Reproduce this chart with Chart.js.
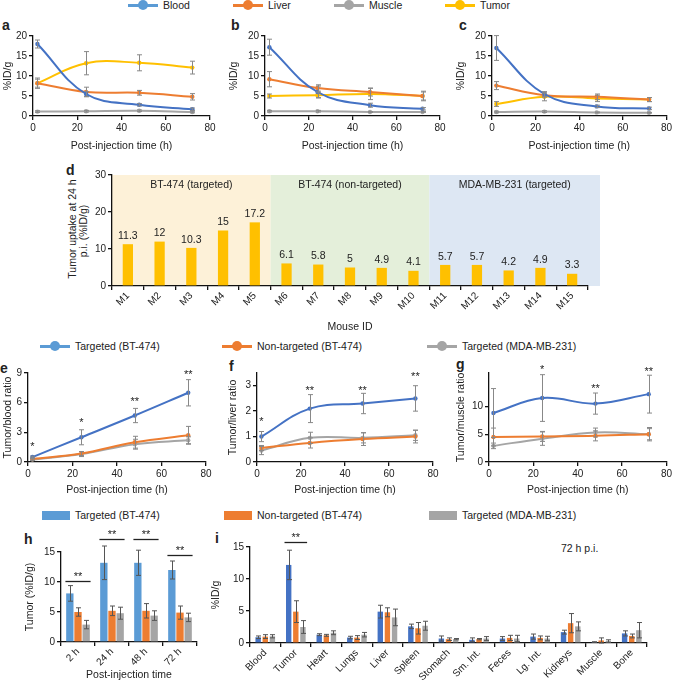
<!DOCTYPE html>
<html>
<head>
<meta charset="utf-8">
<script src="https://cdn.jsdelivr.net/npm/chart.js@4.4.1/dist/chart.umd.min.js"></script>
<style>
body { margin: 0; background: #fff; width: 674px; height: 681px; position: relative; overflow: hidden;
       font-family: 'Liberation Sans', Arial, sans-serif; color: #222; }
canvas { position: absolute; }
.lt { position: absolute; font-weight: bold; font-size: 14px; line-height: 14px; }
.leg { position: absolute; font-size: 10.5px; line-height: 12px; display: flex; align-items: center; white-space: nowrap; }
.ln { display: inline-block; width: 30px; height: 3px; background: var(--c); position: relative; margin-right: 5px; }
.ln::after { content: ''; position: absolute; left: 10px; top: -3.5px; width: 10px; height: 10px; border-radius: 50%; background: var(--c); }
.bx { display: inline-block; width: 28px; height: 9px; background: var(--c); margin-right: 5px; }
.note { position: absolute; font-size: 10.5px; }
.vt { position: absolute; width: 160px; text-align: center; font-size: 10.5px; line-height: 12px; transform: rotate(-90deg); white-space: nowrap; }
</style>
</head>
<body>
<div class="lt" style="left:2px;top:18px">a</div>
<div class="lt" style="left:231px;top:18px">b</div>
<div class="lt" style="left:459px;top:18px">c</div>
<div class="lt" style="left:66px;top:163px">d</div>
<div class="lt" style="left:0px;top:361px">e</div>
<div class="lt" style="left:229px;top:359px">f</div>
<div class="lt" style="left:456px;top:357px">g</div>
<div class="lt" style="left:24px;top:532px">h</div>
<div class="lt" style="left:215px;top:531px">i</div>
<div class="note" style="left:561px;top:542px">72 h p.i.</div>
<div class="vt" style="left:-8px;top:223px">Tumor uptake at 24 h</div>
<div class="vt" style="left:3px;top:225px">p.i. (%ID/g)</div>

<script>
// ---- data ----
const times = [2, 24, 48, 72];
const organNames = ['Blood', 'Liver', 'Muscle', 'Tumor'];
const groupNames = ['Targeted (BT-474)', 'Non-targeted (BT-474)', 'Targeted (MDA-MB-231)'];

// panel a (targeted, BT-474)
const aBlood = [18.0, 5.5, 2.8, 1.7],   aBloodErr = [1.0, 0.6, 0.3, 0.3];
const aLiver = [8.2, 6.0, 5.8, 4.8],    aLiverErr = [1.3, 1.2, 0.6, 0.8];
const aMuscle = [1.1, 1.2, 1.3, 1.0],   aMuscleErr = [0.2, 0.2, 0.2, 0.2];
const aTumor = [8.2, 13.2, 13.3, 12.1], aTumorErr = [1.0, 2.9, 2.0, 1.6];
// panel b (non-targeted, BT-474)
const bBlood = [17.2, 6.0, 2.7, 1.8],   bBloodErr = [2.0, 1.5, 0.5, 0.3];
const bLiver = [9.2, 7.0, 6.0, 5.0],    bLiverErr = [1.9, 0.8, 1.0, 1.0];
const bMuscle = [1.2, 1.2, 1.0, 1.0],   bMuscleErr = [0.2, 0.2, 0.1, 0.1];
const bTumor = [5.0, 5.2, 5.5, 5.0],    bTumorErr = [0.5, 0.6, 1.4, 1.2];
// panel c (targeted, MDA-MB-231)
const cBlood = [17.0, 5.5, 2.4, 1.9],   cBloodErr = [3.1, 0.6, 0.3, 0.3];
const cLiver = [7.6, 5.2, 4.8, 4.1],    cLiverErr = [1.0, 0.5, 0.7, 0.5];
const cMuscle = [1.0, 1.1, 0.9, 0.8],   cMuscleErr = [0.2, 0.2, 0.1, 0.1];
const cTumor = [3.0, 4.8, 4.4, 4.1],    cTumorErr = [0.6, 1.0, 0.8, 0.5];

// panel d
const mice = ['M1','M2','M3','M4','M5','M6','M7','M8','M9','M10','M11','M12','M13','M14','M15'];
const uptake24h = [11.3, 12, 10.3, 15, 17.2, 6.1, 5.8, 5, 4.9, 4.1, 5.7, 5.7, 4.2, 4.9, 3.3];
const mouseGroups = ['BT-474 (targeted)', 'BT-474 (non-targeted)', 'MDA-MB-231 (targeted)'];

// panel e: tumor/blood ratio
const eT = [0.5, 2.5, 4.7, 7.0],  eTErr = [0.1, 0.76, 0.72, 1.33];
const eN = [0.3, 0.85, 2.0, 2.7], eNErr = [0.1, 0.2, 0.6, 0.9];
const eM = [0.25, 0.8, 1.8, 2.2], eMErr = [0.1, 0.25, 0.5, 0.35];
const eStars = ['*', '*', '**', '**'], eStarAt = [1.8, 4.2, 6.4, 9.1];
// panel f: tumor/liver ratio
const fT = [1.0, 2.1, 2.3, 2.5],    fTErr = [0.2, 0.55, 0.4, 0.5];
const fN = [0.55, 0.75, 0.9, 1.0],  fNErr = [0.1, 0.2, 0.25, 0.25];
const fM = [0.45, 0.95, 0.95, 1.05], fMErr = [0.16, 0.22, 0.2, 0.2];
const fStars = ['*', '**', '**', '**'], fStarAt = [1.7, 2.9, 2.9, 3.45];
// panel g: tumor/muscle ratio
const gT = [8.8, 11.5, 10.5, 12.2], gTErr = [4.4, 4.2, 1.9, 3.4];
const gN = [4.5, 4.6, 4.7, 5.0],    gNErr = [1.6, 0.9, 0.9, 1.2];
const gM = [2.9, 4.2, 5.3, 5.0],    gMErr = [0.5, 1.2, 0.8, 1.0];
const gStars = ['', '*', '**', '**'], gStarAt = [0, 17, 13.75, 16.8];

// panel h: tumor uptake
const hTimes = ['2 h', '24 h', '48 h', '72 h'];
const hT = [8.1, 13.2, 13.2, 12.0], hTErr = [1.3, 2.8, 2.1, 1.5];
const hN = [5.0, 5.2, 5.2, 4.9],    hNErr = [0.7, 0.8, 1.2, 1.1];
const hM = [2.9, 4.8, 4.4, 4.1],    hMErr = [0.7, 1.0, 0.8, 0.7];
const hSig = [10.2, 17.2, 17.2, 14.5];

// panel i: biodistribution 72 h
const organs = ['Blood','Tumor','Heart','Lungs','Liver','Spleen','Stomach','Sm. Int.','Feces','Lg. Int.','Kidneys','Muscle','Bone'];
const iT = [0.9, 12.2, 1.3, 0.85, 4.9, 2.6, 0.7, 0.5, 0.7, 1.0, 1.7, 0.15, 1.5];
const iTErr = [0.2, 2.3, 0.15, 0.2, 1.0, 0.35, 0.4, 0.3, 0.3, 0.4, 0.3, 0.05, 0.4];
const iN = [1.0, 4.9, 1.2, 0.85, 4.8, 2.3, 0.6, 0.6, 0.8, 0.8, 3.1, 0.4, 1.1];
const iNErr = [0.3, 1.7, 0.15, 0.3, 0.7, 0.9, 0.2, 0.1, 0.4, 0.3, 1.5, 0.4, 0.3];
const iM = [1.05, 2.5, 1.6, 1.3, 4.0, 2.7, 0.6, 0.7, 0.7, 0.7, 2.6, 0.3, 2.0];
const iMErr = [0.25, 1.0, 0.3, 0.35, 1.3, 0.7, 0.1, 0.3, 0.5, 0.35, 0.7, 0.2, 1.2];
const iSig = [null, 15.8, null, null, null, null, null, null, null, null, null, null, null];

// ---- styling ----
const FONT = "'Liberation Sans', Arial, sans-serif";
const BLUE = '#4472C4', LBLUE = '#5B9BD5', ORANGE = '#ED7D31', GRAY = '#A5A5A5', YELLOW = '#FFC000';
const groupFills = ['#FDF1D8', '#E4EFDA', '#DDE7F3'];

Chart.defaults.font.family = FONT;
Chart.defaults.font.size = 10;
Chart.defaults.color = '#222';
Chart.defaults.animation = false;
Chart.defaults.responsive = false;
Chart.defaults.plugins.legend.display = false;
Chart.defaults.plugins.tooltip.enabled = false;

// legends (html)
function legend(top, items, kind) {
  items.forEach(it => {
    const d = document.createElement('div');
    d.className = 'leg';
    d.style.left = it.left + 'px';
    d.style.top = top + 'px';
    const s = document.createElement('span');
    s.className = kind;
    s.style.setProperty('--c', it.color);
    d.appendChild(s);
    d.appendChild(document.createTextNode(it.name));
    document.body.appendChild(d);
  });
}
legend(-1, [
  {name: organNames[0], color: LBLUE, left: 128},
  {name: organNames[1], color: ORANGE, left: 233},
  {name: organNames[2], color: GRAY, left: 334},
  {name: organNames[3], color: YELLOW, left: 445}], 'ln');
legend(340, [
  {name: groupNames[0], color: LBLUE, left: 40},
  {name: groupNames[1], color: ORANGE, left: 222},
  {name: groupNames[2], color: GRAY, left: 427}], 'ln');
legend(509, [
  {name: groupNames[0], color: LBLUE, left: 42},
  {name: groupNames[1], color: ORANGE, left: 224},
  {name: groupNames[2], color: GRAY, left: 429}], 'bx');

function place(left, top, w, h) {
  const c = document.createElement('canvas');
  c.width = w; c.height = h;
  c.style.left = left + 'px'; c.style.top = top + 'px';
  document.body.appendChild(c);
  return c;
}

// error bars on any dataset with an errors array
const errorBars = {
  id: 'errorBars',
  afterDatasetsDraw(chart) {
    const ctx = chart.ctx, y = chart.scales.y;
    ctx.save();
    chart.data.datasets.forEach((ds, i) => {
      if (!ds.errors) return;
      const meta = chart.getDatasetMeta(i);
      ctx.strokeStyle = ds.errColor || '#888';
      ctx.lineWidth = 1;
      meta.data.forEach((el, j) => {
        const raw = ds.data[j];
        const v = typeof raw === 'object' ? raw.y : raw;
        const e = ds.errors[j];
        if (!e) return;
        const x = Math.round(el.x) + 0.5;
        const t = y.getPixelForValue(v + e), b = y.getPixelForValue(Math.max(0, v - e));
        ctx.beginPath();
        ctx.moveTo(x, t); ctx.lineTo(x, b);
        ctx.moveTo(x - 2.5, t); ctx.lineTo(x + 2.5, t);
        ctx.moveTo(x - 2.5, b); ctx.lineTo(x + 2.5, b);
        ctx.stroke();
      });
    });
    ctx.restore();
  }
};

function starMarks(labels, xs, ys) {
  return {
    id: 'stars',
    afterDraw(chart) {
      const {ctx, scales: {x, y}} = chart;
      ctx.save();
      ctx.fillStyle = '#222';
      ctx.font = '11px ' + FONT;
      ctx.textAlign = 'center';
      ctx.textBaseline = 'alphabetic';
      labels.forEach((t, i) => {
        if (!t) return;
        ctx.fillText(t, x.getPixelForValue(xs[i]), y.getPixelForValue(ys[i]) + 6);
      });
      ctx.restore();
    }
  };
}

function sigMarks(ys) {
  return {
    id: 'sig',
    afterDraw(chart) {
      const {ctx, scales: {x, y}} = chart;
      const step = x.getPixelForValue(1) - x.getPixelForValue(0);
      ctx.save();
      ctx.fillStyle = '#222'; ctx.strokeStyle = '#222'; ctx.lineWidth = 1.3;
      ctx.font = '11px ' + FONT;
      ctx.textAlign = 'center';
      ys.forEach((v, i) => {
        if (v == null) return;
        const cx = x.getPixelForValue(i), py = Math.round(y.getPixelForValue(v)) + 0.5;
        ctx.beginPath();
        ctx.moveTo(cx - step * 0.37, py); ctx.lineTo(cx + step * 0.37, py);
        ctx.stroke();
        ctx.fillText('**', cx, py - 2);
      });
      ctx.restore();
    }
  };
}

function axis(title, fit, horizontal, ticks) {
  return {
    border: {color: '#111', width: 1.3},
    grid: {display: true, drawOnChartArea: false, drawTicks: true, tickLength: 4, color: '#111', lineWidth: 1.3},
    ticks: Object.assign({padding: 2, color: '#222'}, ticks || {}),
    title: {display: !!title, text: title, color: '#222', font: {size: 10.5}, padding: {top: 2, bottom: 0}},
    afterFit: s => { if (horizontal) s.height = fit; else s.width = fit; }
  };
}

function lineChart(box, pad, yW, xH, yTitle, yMax, yStep, series, stars) {
  const [l, t, w, h] = box;
  const y = Object.assign(axis(yTitle, yW, false), {min: 0, max: yMax});
  y.ticks.stepSize = yStep;
  y.afterBuildTicks = s => { s.ticks = s.ticks.filter(k => Math.abs(k.value / yStep - Math.round(k.value / yStep)) < 1e-6); };
  const x = Object.assign(axis('Post-injection time (h)', xH, true, {stepSize: 20}), {type: 'linear', min: 0, max: 80});
  return new Chart(place(l, t, w, h), {
    type: 'line',
    data: {
      datasets: series.map(s => ({
        data: times.map((tm, i) => ({x: tm, y: s.v[i]})),
        errors: s.e,
        borderColor: s.c, backgroundColor: s.c,
        borderWidth: 2, pointRadius: 2.2, pointBorderWidth: 0, tension: 0.4
      }))
    },
    options: {layout: {padding: pad}, scales: {x, y}},
    plugins: [errorBars].concat(stars ? [starMarks(stars[0], times, stars[1])] : [])
  });
}

// a, b, c
lineChart([0, 28, 222, 124], {top: 8, right: 12}, 33, 36, '%ID/g', 20, 5, [
  {v: aBlood, e: aBloodErr, c: BLUE}, {v: aLiver, e: aLiverErr, c: ORANGE},
  {v: aMuscle, e: aMuscleErr, c: GRAY}, {v: aTumor, e: aTumorErr, c: YELLOW}]);
lineChart([226, 28, 226, 124], {top: 8, right: 12}, 39, 36, '%ID/g', 20, 5, [
  {v: bBlood, e: bBloodErr, c: BLUE}, {v: bLiver, e: bLiverErr, c: ORANGE},
  {v: bMuscle, e: bMuscleErr, c: GRAY}, {v: bTumor, e: bTumorErr, c: YELLOW}]);
lineChart([453, 28, 221, 124], {top: 8, right: 7}, 39, 36, '%ID/g', 20, 5, [
  {v: cBlood, e: cBloodErr, c: BLUE}, {v: cLiver, e: cLiverErr, c: ORANGE},
  {v: cMuscle, e: cMuscleErr, c: GRAY}, {v: cTumor, e: cTumorErr, c: YELLOW}]);

// e, f, g
lineChart([0, 358, 218, 138], {top: 15, right: 12}, 28, 34, 'Tumor/blood ratio', 9, 3, [
  {v: eT, e: eTErr, c: BLUE}, {v: eN, e: eNErr, c: ORANGE}, {v: eM, e: eMErr, c: GRAY}], [eStars, eStarAt]);
lineChart([225, 358, 220, 138], {top: 15, right: 12}, 32, 34, 'Tumor/liver ratio', 3.5, 1, [
  {v: fT, e: fTErr, c: BLUE}, {v: fN, e: fNErr, c: ORANGE}, {v: fM, e: fMErr, c: GRAY}], [fStars, fStarAt]);
lineChart([453, 358, 221, 138], {top: 15, right: 7}, 36, 34, 'Tumor/muscle ratio', 16, 5, [
  {v: gT, e: gTErr, c: BLUE}, {v: gN, e: gNErr, c: ORANGE}, {v: gM, e: gMErr, c: GRAY}], [gStars, gStarAt]);

// d
const groupPlugin = {
  id: 'groups',
  beforeDraw(chart) {
    const {ctx, chartArea: {top, bottom}, scales: {x}} = chart;
    const step = x.getPixelForValue(1) - x.getPixelForValue(0);
    const size = mice.length / mouseGroups.length;
    ctx.save();
    mouseGroups.forEach((n, g) => {
      const x0 = x.getPixelForValue(g * size) - step / 2;
      const x1 = x.getPixelForValue(g * size + size - 1) + step / 2 + (g === mouseGroups.length - 1 ? 12 : 0);
      ctx.fillStyle = groupFills[g];
      ctx.fillRect(x0, top, x1 - x0, bottom - top);
      ctx.fillStyle = '#222';
      ctx.font = '10.5px ' + FONT;
      ctx.textAlign = 'center'; ctx.textBaseline = 'middle';
      ctx.fillText(n, (x0 + x1) / 2, top + 10);
    });
    ctx.restore();
  },
  afterDatasetsDraw(chart) {
    const ctx = chart.ctx;
    ctx.save();
    ctx.fillStyle = '#222';
    ctx.font = '10.5px ' + FONT;
    ctx.textAlign = 'center'; ctx.textBaseline = 'bottom';
    chart.getDatasetMeta(0).data.forEach((el, i) => ctx.fillText(String(uptake24h[i]), el.x, el.y - 3));
    ctx.restore();
  }
};
{
  const y = Object.assign(axis('', 52, false, {stepSize: 10}), {min: 0, max: 30});
  const x = axis('Mouse ID', 47, true, {minRotation: 45, maxRotation: 45, autoSkip: false, padding: 0});
  new Chart(place(60, 165, 540, 168), {
    type: 'bar',
    data: {labels: mice, datasets: [{data: uptake24h, backgroundColor: YELLOW, barPercentage: 0.36, categoryPercentage: 0.9}]},
    options: {layout: {padding: {top: 10, right: 12}}, scales: {x, y}},
    plugins: [groupPlugin]
  });
}

function barChart(box, pad, yW, xH, yTitle, xTitle, yMax, labels, series, catPct, barPct, sig) {
  const [l, t, w, h] = box;
  const y = Object.assign(axis(yTitle, yW, false, {stepSize: 5}), {min: 0, max: yMax});
  const x = axis(xTitle, xH, true, {minRotation: 45, maxRotation: 45, autoSkip: false, padding: 0});
  return new Chart(place(l, t, w, h), {
    type: 'bar',
    data: {
      labels,
      datasets: series.map(s => ({data: s.v, errors: s.e, errColor: '#555', backgroundColor: s.c,
        categoryPercentage: catPct, barPercentage: barPct}))
    },
    options: {layout: {padding: pad}, scales: {x, y}},
    plugins: [errorBars, sigMarks(sig)]
  });
}

barChart([22, 530, 185, 151], {top: 22, right: 10}, 39, 39, 'Tumor (%ID/g)', 'Post-injection time', 15, hTimes, [
  {v: hT, e: hTErr, c: LBLUE}, {v: hN, e: hNErr, c: ORANGE}, {v: hM, e: hMErr, c: GRAY}], 0.72, 0.9, hSig);
barChart([208, 530, 466, 151], {top: 17, right: 27}, 42, 38, '%ID/g', '', 15, organs, [
  {v: iT, e: iTErr, c: BLUE}, {v: iN, e: iNErr, c: ORANGE}, {v: iM, e: iMErr, c: GRAY}], 0.7, 0.76, iSig);
</script>
</body>
</html>
